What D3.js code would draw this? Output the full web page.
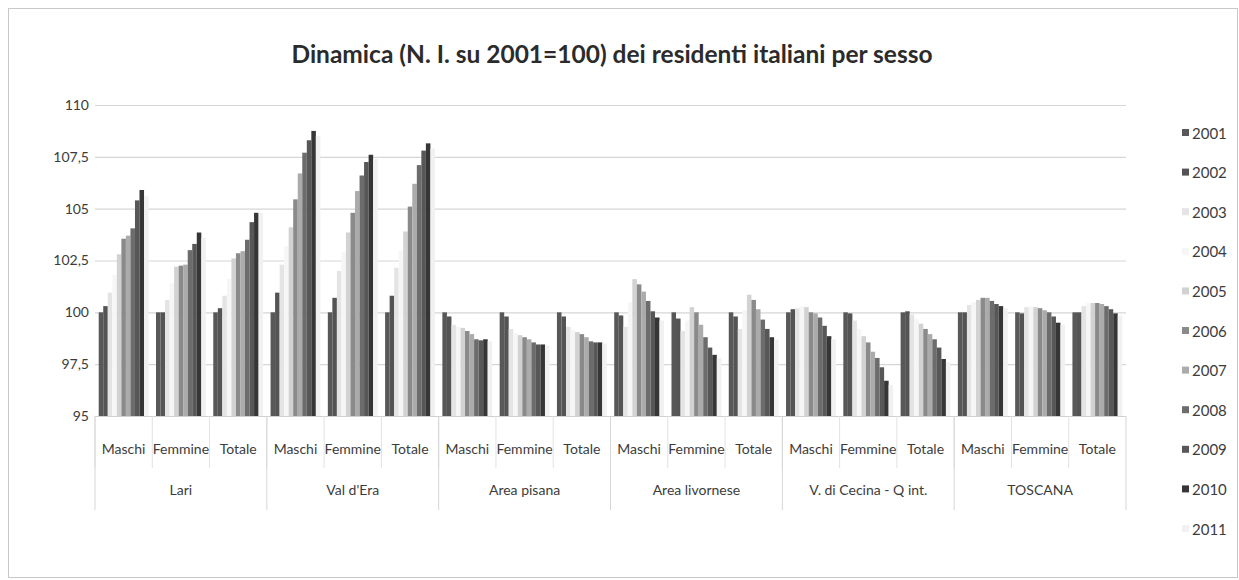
<!DOCTYPE html>
<html>
<head>
<meta charset="utf-8">
<script src="https://cdn.jsdelivr.net/npm/d3@7"></script>
<style>
  html, body { margin: 0; padding: 0; background: #fff; }
  svg { display: block; font-family: Lato, "Open Sans", sans-serif; }
</style>
</head>
<body>
<svg id="chart" width="1239" height="580"></svg>
<script>
// Areas, sub-categories and years
const areas = ["Lari", "Val d'Era", "Area pisana", "Area livornese", "V. di Cecina - Q  int.", "TOSCANA"];
const sexes = ["Maschi", "Femmine", "Totale"];
const years = ["2001", "2002", "2003", "2004", "2005", "2006", "2007", "2008", "2009", "2010", "2011"];

// Index numbers (2001 = 100), one value per area/sex pair, in the order
// Lari M F T, Val d'Era M F T, Area pisana M F T, Area livornese M F T,
// V. di Cecina M F T, TOSCANA M F T
const s2001 = [100, 100, 100, 100, 100, 100, 100, 100, 100, 100, 100, 100, 100, 100, 100, 100, 100, 100];
const s2002 = [100.3, 100.0, 100.2, 100.95, 100.7, 100.8, 99.8, 99.8, 99.8, 99.85, 99.7, 99.8, 100.15, 99.95, 100.05, 100.0, 99.95, 100.0];
const s2003 = [100.95, 100.6, 100.8, 102.3, 102.0, 102.15, 99.4, 99.2, 99.3, 99.3, 99.1, 99.2, 100.2, 99.6, 99.9, 100.35, 100.25, 100.3];
const s2004 = [101.8, 101.4, 101.6, 103.2, 102.9, 103.0, 99.3, 99.0, 99.15, 100.5, 99.6, 100.1, 100.3, 99.2, 99.7, 100.5, 100.3, 100.45];
const s2005 = [102.8, 102.2, 102.6, 104.1, 103.85, 103.9, 99.25, 98.9, 99.05, 101.6, 100.25, 100.85, 100.25, 98.85, 99.45, 100.6, 100.25, 100.45];
const s2006 = [103.55, 102.25, 102.85, 105.45, 104.8, 105.1, 99.1, 98.8, 98.95, 101.35, 100.0, 100.6, 100.0, 98.55, 99.2, 100.7, 100.2, 100.45];
const s2007 = [103.7, 102.3, 102.95, 106.7, 105.85, 106.2, 98.95, 98.7, 98.8, 101.0, 99.4, 100.15, 99.95, 98.1, 98.95, 100.7, 100.1, 100.4];
const s2008 = [104.05, 103.0, 103.5, 107.7, 106.6, 107.1, 98.7, 98.55, 98.6, 100.55, 98.8, 99.65, 99.75, 97.8, 98.7, 100.55, 100.0, 100.3];
const s2009 = [105.4, 103.3, 104.35, 108.3, 107.25, 107.8, 98.65, 98.45, 98.55, 100.05, 98.3, 99.2, 99.35, 97.35, 98.3, 100.4, 99.8, 100.15];
const s2010 = [105.9, 103.85, 104.8, 108.75, 107.6, 108.15, 98.7, 98.45, 98.55, 99.75, 97.95, 98.8, 98.85, 96.7, 97.75, 100.3, 99.5, 99.95];
const s2011 = [105.6, 103.6, 104.8, 108.5, 107.4, 107.9, 98.6, 98.4, 98.5, 99.6, 97.8, 98.7, 98.7, 96.5, 97.6, 100.2, 99.4, 99.85];
const seriesValues = [s2001, s2002, s2003, s2004, s2005, s2006, s2007, s2008, s2009, s2010, s2011];

// Value axis ticks
const yTicks = [95, 97.5, 100, 102.5, 105, 107.5, 110];
const yTickLabels = ["95", "97,5", "100", "102,5", "105", "107,5", "110"];

// Grey shades of the series
const seriesColors = ["#585858", "#545454", "#e4e4e4", "#f6f6f6", "#d2d2d2", "#8a8a8a", "#ababab",
                      "#6c6c6c", "#575757", "#363636", "#f1f1f1"];

// Flat table built from the arrays above
const rows = [];
areas.forEach((a, ai) => sexes.forEach((s, si) => years.forEach((yr, yi) => {
  rows.push({ area: a, sex: s, year: yr, value: seriesValues[yi][ai * 3 + si] });
})));

const svg = d3.select("#chart");
const plot = { left: 95, right: 1126, top: 105, bottom: 416 };

// chart frame
svg.append("rect")
  .attr("x", 8.5).attr("y", 8.5).attr("width", 1229).attr("height", 569)
  .attr("fill", "#fff").attr("stroke", "#c8c8c8").attr("stroke-width", 1);

// title
svg.append("text")
  .attr("x", 612).attr("y", 63)
  .attr("text-anchor", "middle")
  .attr("font-size", 24.5).attr("font-weight", 700)
  .attr("fill", "#2b2b2b")
  .text("Dinamica (N. I. su 2001=100) dei residenti italiani per sesso");

const x0 = d3.scaleBand().domain(areas).range([plot.left, plot.right]).paddingInner(0).paddingOuter(0);
const x1 = d3.scaleBand().domain(sexes).range([0, x0.bandwidth()]).paddingInner(0).paddingOuter(0);
const x2 = d3.scaleBand().domain(years).range([0, x1.bandwidth()]).paddingInner(0).paddingOuter(0.82);
const y = d3.scaleLinear().domain([95, 110]).range([plot.bottom, plot.top]);

// horizontal gridlines and value labels
const yAxis = d3.axisLeft(y)
  .tickValues(yTicks)
  .tickSize(-(plot.right - plot.left))
  .tickPadding(6)
  .tickFormat((d, i) => yTickLabels[i]);

const gy = svg.append("g")
  .attr("transform", `translate(${plot.left},0)`)
  .call(yAxis);
gy.select(".domain").remove();
gy.selectAll(".tick line").attr("stroke", "#d6d6d6").attr("stroke-width", 1.2);
gy.selectAll(".tick text")
  .attr("font-family", "Lato, sans-serif")
  .attr("font-size", 14).attr("fill", "#3c3c3c");

// bars
svg.append("g")
  .selectAll("rect")
  .data(rows)
  .join("rect")
  .attr("x", d => x0(d.area) + x1(d.sex) + x2(d.year))
  .attr("width", x2.bandwidth())
  .attr("y", d => y(d.value))
  .attr("height", d => y(95) - y(d.value))
  .attr("fill", d => seriesColors[years.indexOf(d.year)]);

// category axis: baseline, separators and labels
const axisG = svg.append("g");
axisG.append("line")
  .attr("x1", plot.left).attr("x2", plot.right)
  .attr("y1", plot.bottom + 0.5).attr("y2", plot.bottom + 0.5)
  .attr("stroke", "#d0d0d0");

const subBounds = [];
areas.forEach(a => sexes.forEach(s => subBounds.push(x0(a) + x1(s))));
axisG.selectAll("line.sub")
  .data(subBounds)
  .join("line")
  .attr("class", "sub")
  .attr("x1", d => d).attr("x2", d => d)
  .attr("y1", plot.bottom).attr("y2", 468)
  .attr("stroke", "#e2e2e2");

const areaBounds = areas.map(a => x0(a)).concat([plot.right]);
axisG.selectAll("line.area")
  .data(areaBounds)
  .join("line")
  .attr("class", "area")
  .attr("x1", d => d).attr("x2", d => d)
  .attr("y1", plot.bottom).attr("y2", 510)
  .attr("stroke", "#d6d6d6");

const subLabels = [];
areas.forEach(a => sexes.forEach(s => subLabels.push({ area: a, sex: s })));
axisG.selectAll("text.sub")
  .data(subLabels)
  .join("text")
  .attr("class", "sub")
  .attr("x", d => x0(d.area) + x1(d.sex) + x1.bandwidth() / 2)
  .attr("y", 454)
  .attr("text-anchor", "middle")
  .attr("font-size", 14).attr("fill", "#3c3c3c")
  .text(d => d.sex);

axisG.selectAll("text.area")
  .data(areas)
  .join("text")
  .attr("class", "area")
  .attr("x", d => x0(d) + x0.bandwidth() / 2)
  .attr("y", 495)
  .attr("text-anchor", "middle")
  .attr("font-size", 14).attr("fill", "#3c3c3c")
  .text(d => d);

// legend
const legend = svg.append("g")
  .selectAll("g")
  .data(years)
  .join("g")
  .attr("transform", (d, i) => `translate(1182, ${133 + i * 39.6})`);
legend.append("rect")
  .attr("x", 0).attr("y", -4).attr("width", 7).attr("height", 7)
  .attr("fill", (d, i) => seriesColors[i]);
legend.append("text")
  .attr("x", 10).attr("y", 5.5)
  .attr("font-size", 15).attr("fill", "#3c3c3c")
  .text(d => d);
</script>
</body>
</html>
